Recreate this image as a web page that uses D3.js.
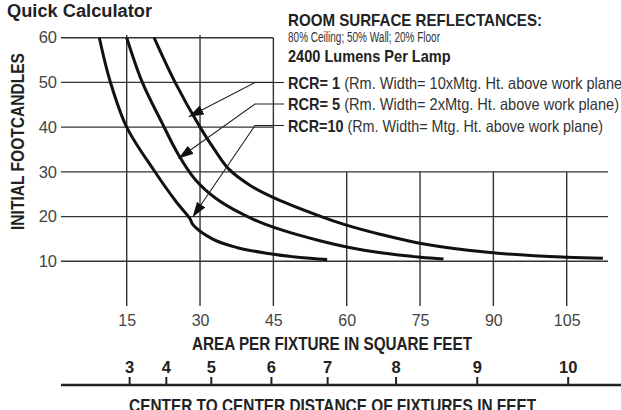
<!DOCTYPE html>
<html>
<head>
<meta charset="utf-8">
<script src="https://cdn.jsdelivr.net/npm/d3@7"></script>
<style>
body { margin: 0; background: #fff; }
svg { display: block; font-family: "Liberation Sans", Arial, sans-serif; }
</style>
</head>
<body>
<div id="chart"></div>
<script>
// values
const areaTicks = [15, 30, 45, 60, 75, 90, 105];
const fcTicks = [10, 20, 30, 40, 50, 60];
const distLabels = [3, 4, 5, 6, 7, 8, 9, 10];
const distArea = [15.5, 23.0, 32.2, 44.5, 56.0, 70.0, 86.6, 105.2]; // where each distance tick sits on the area scale

const rcr1Area = [20.6, 24.9, 30, 33, 35.9, 40.5, 45.5, 54.5, 59.6, 67, 75.2, 89.9, 105, 112.4];
const rcr1Fc   = [60, 50, 40, 34.9, 30.6, 26.8, 24.0, 20.1, 18.2, 16.0, 14.0, 11.9, 10.9, 10.7];
const rcr5Area = [15, 18.2, 22.2, 25.5, 29, 33.7, 40.9, 47, 54.5, 60.5, 67, 75.1, 79.8];
const rcr5Fc   = [60, 50, 41, 34.0, 28.3, 23.7, 19.4, 16.9, 14.6, 13.1, 11.9, 10.9, 10.5];
const rcr10Area = [9.4, 11.6, 15, 20.6, 25.2, 27.9, 28.6, 32.7, 37.5, 43.6, 50, 56];
const rcr10Fc   = [60, 50.3, 40, 30.3, 23.2, 19.6, 18.1, 14.9, 13.1, 11.8, 10.9, 10.4];

const rcrNames = ["RCR= 1", "RCR= 5", "RCR=10"];
const rcrNotes = [" (Rm. Width= 10xMtg. Ht. above work plane)",
                  " (Rm. Width= 2xMtg. Ht. above work plane)",
                  " (Rm. Width= Mtg. Ht. above work plane)"];
const arrowArea = [27.7, 25.6, 28.5];
const arrowFc = [42.3, 33.0, 19.9];

const width = 621;
const height = 410;

const svg = d3.select("#chart").append("svg")
  .attr("width", width)
  .attr("height", height)
  .attr("viewBox", [0, 0, width, height]);

const x = d3.scaleLinear().domain([15, 105]).range([126.7, 566.7]);
const y = d3.scaleLinear().domain([10, 60]).range([261.3, 37.7]);
const plotLeft = 61;
const plotRight = 608;

const gridColor = "#333";

// horizontal grid: upper three stop at the 45 line, lower three run across
svg.append("g")
  .selectAll("line")
  .data(fcTicks)
  .join("line")
  .attr("x1", plotLeft)
  .attr("x2", d => d >= 40 ? x(45) : plotRight)
  .attr("y1", d => y(d))
  .attr("y2", d => y(d))
  .attr("stroke", gridColor)
  .attr("stroke-width", 1.4);

// vertical grid
svg.append("g")
  .selectAll("line")
  .data(areaTicks)
  .join("line")
  .attr("x1", d => x(d))
  .attr("x2", d => x(d))
  .attr("y1", d => d < 45 ? y(60.6) : d === 45 ? y(60) : y(30))
  .attr("y2", y(0))
  .attr("stroke", gridColor)
  .attr("stroke-width", 1.4);

// y labels
const yAxis = svg.append("g")
  .attr("transform", `translate(${plotLeft},0)`)
  .call(d3.axisLeft(y).tickValues(fcTicks).tickSize(0).tickPadding(4));
yAxis.select(".domain").remove();
yAxis.selectAll("text")
  .attr("font-family", "Liberation Sans, Arial, sans-serif")
  .attr("font-size", 16.5)
  .attr("fill", "#444");

// x labels under the grid
const xAxis = svg.append("g")
  .attr("transform", `translate(0,${y(0)})`)
  .call(d3.axisBottom(x).tickValues(areaTicks).tickSize(0).tickPadding(8.5));
xAxis.select(".domain").remove();
xAxis.selectAll("text")
  .attr("font-family", "Liberation Sans, Arial, sans-serif")
  .attr("font-size", 16)
  .attr("fill", "#444");

// curves
const series = [
  rcr1Area.map((a, i) => ({a, fc: rcr1Fc[i]})),
  rcr5Area.map((a, i) => ({a, fc: rcr5Fc[i]})),
  rcr10Area.map((a, i) => ({a, fc: rcr10Fc[i]}))
];
const line = d3.line()
  .x(d => x(d.a))
  .y(d => y(d.fc))
  .curve(d3.curveCatmullRom.alpha(0.5));

svg.append("g")
  .selectAll("path")
  .data(series)
  .join("path")
  .attr("d", line)
  .attr("fill", "none")
  .attr("stroke", "#111")
  .attr("stroke-width", 3);

// distance axis at the bottom
const axisY = 385;
svg.append("line")
  .attr("x1", plotLeft)
  .attr("x2", width)
  .attr("y1", axisY)
  .attr("y2", axisY)
  .attr("stroke", "#222")
  .attr("stroke-width", 2.5);

const dAxis = svg.append("g")
  .attr("transform", `translate(0,${axisY})`)
  .call(d3.axisTop(x).tickValues(distArea).tickFormat((d, i) => distLabels[i]).tickSize(8).tickPadding(4));
dAxis.select(".domain").remove();
dAxis.selectAll("line").attr("stroke", "#222").attr("stroke-width", 2);
dAxis.selectAll("text")
  .attr("font-family", "Liberation Sans, Arial, sans-serif")
  .attr("font-size", 16.5)
  .attr("font-weight", "bold")
  .attr("fill", "#222");

// titles
function label(txt, px, py, size, weight, len, anchor) {
  return svg.append("text")
    .attr("x", px)
    .attr("y", py)
    .attr("font-size", size)
    .attr("font-weight", weight)
    .attr("fill", "#222")
    .attr("text-anchor", anchor || "start")
    .attr("textLength", len)
    .attr("lengthAdjust", "spacingAndGlyphs")
    .text(txt);
}

label("Quick Calculator", 7, 16.7, 17.5, "bold", 145);
label("AREA PER FIXTURE IN SQUARE FEET", 332, 350, 17.5, "bold", 280, "middle");
label("CENTER TO CENTER DISTANCE OF FIXTURES IN FEET", 332.6, 412, 17.5, "bold", 407, "middle");

svg.append("text")
  .attr("transform", "translate(24,141.5) rotate(-90)")
  .attr("text-anchor", "middle")
  .attr("font-size", 19)
  .attr("font-weight", "bold")
  .attr("fill", "#222")
  .attr("textLength", 177)
  .attr("lengthAdjust", "spacingAndGlyphs")
  .text("INITIAL FOOTCANDLES");

// legend block
const legX = 288;
label("ROOM SURFACE REFLECTANCES:", legX, 26, 17, "bold", 254);
label("80% Ceiling; 50% Wall; 20% Floor", legX, 42, 15.5, "normal", 152).attr("fill", "#333");
label("2400 Lumens Per Lamp", legX, 62, 17, "bold", 162.7);

const rowBase = [88.5, 110, 131.5];
const rowLen = [339, 331, 315];
rcrNames.forEach((name, i) => {
  const t = svg.append("text")
    .attr("x", legX)
    .attr("y", rowBase[i])
    .attr("font-size", 16.5)
    .attr("fill", "#222")
    .attr("textLength", rowLen[i])
    .attr("lengthAdjust", "spacingAndGlyphs");
  t.append("tspan").attr("font-weight", "bold").text(name);
  t.append("tspan").attr("fill", "#333").text(rcrNotes[i]);
});

// leader lines with arrow heads
svg.append("defs").append("marker")
  .attr("id", "head")
  .attr("viewBox", "0 -5.5 16 11")
  .attr("refX", 15)
  .attr("refY", 0)
  .attr("markerWidth", 16)
  .attr("markerHeight", 11)
  .attr("markerUnits", "userSpaceOnUse")
  .attr("orient", "auto")
  .append("path")
  .attr("d", "M0,-5L15,0L0,5Z")
  .attr("fill", "#111");

const kneeX = 255;
svg.append("g")
  .selectAll("path")
  .data(rcrNames)
  .join("path")
  .attr("d", (d, i) => {
    const ly = rowBase[i] - 6;
    return `M${legX - 4},${ly}L${kneeX},${ly}L${x(arrowArea[i])},${y(arrowFc[i])}`;
  })
  .attr("fill", "none")
  .attr("stroke", "#222")
  .attr("stroke-width", 1.1)
  .attr("marker-end", "url(#head)");
</script>
</body>
</html>
